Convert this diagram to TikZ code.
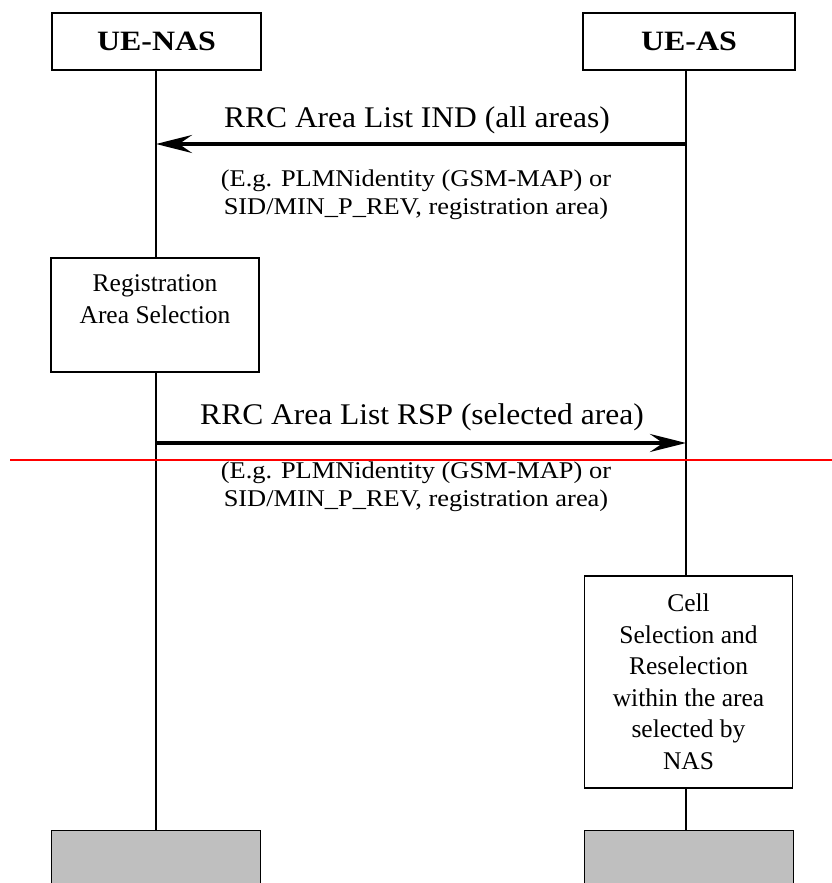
\documentclass[tikz,border=0pt]{standalone}
\usepackage{fontspec}
\setmainfont{Liberation Serif}
\newfontfamily\titlefont[FakeStretch=1.14]{Liberation Serif}
\newfontfamily\msgfont[FakeStretch=1.05]{Liberation Serif}
\newfontfamily\notefont[FakeStretch=1.1]{Liberation Serif}
\usetikzlibrary{arrows.meta}
\begin{document}
\begin{tikzpicture}[x=1pt,y=-1pt,
  entity/.style={draw, line width=1.4pt, inner sep=0pt, minimum height=57pt,
    font=\titlefont\bfseries\fontsize{28}{32}\selectfont},
  procbox/.style={draw, line width=1.4pt, inner sep=0pt, align=center,
    font=\fontsize{25.5}{31.5}\selectfont},
  endbox/.style={draw, line width=1.4pt, fill=black!25, inner sep=0pt,
    minimum width=209pt, minimum height=70pt},
  lifeline/.style={line width=1.3pt},
  message/.style={line width=4pt, -{Stealth[length=36pt,width=18pt,inset=13pt]}},
  msglabel/.style={inner sep=0pt, font=\msgfont\fontsize{30}{34}\selectfont},
  notelabel/.style={inner sep=0pt, align=center, font=\notefont\fontsize{24}{28}\selectfont}]
\useasboundingbox (0,0) rectangle (832,883);

% entities
\node[entity, minimum width=209pt] (nas) at (156.5,41.5) {UE-NAS};
\node[entity, minimum width=212pt] (as) at (689,41.5) {UE-AS};

% local procedures
\node[procbox, minimum width=208pt, minimum height=114pt] (regsel) at (155,315)
  {Registration\\Area Selection\\~};
\node[procbox, minimum width=208pt, minimum height=212pt] (cellsel) at (688.5,682)
  {Cell\\Selection and\\Reselection\\within the area\\selected by\\NAS};

% end of the lifelines
\node[endbox, anchor=north] (nasend) at (156,830) {};
\node[endbox, anchor=north] (asend) at (689,830) {};

% lifelines
\draw[lifeline] (nas.south -| 156,0) -- (regsel.north -| 156,0);
\draw[lifeline] (regsel.south -| 156,0) -- (nasend.north -| 156,0);
\draw[lifeline] (as.south -| 686,0) -- (cellsel.north -| 686,0);
\draw[lifeline] (cellsel.south -| 686,0) -- (asend.north -| 686,0);

% messages
\coordinate (indfrom) at (686,144);
\coordinate (indto) at (156,144);
\draw[message] (indfrom) -- (indto);
\node[msglabel] (indlbl) at (417,120) {RRC Area List IND (all areas)};
\node[notelabel] (indnote) at (416,195)
  {(E.g. PLMNidentity (GSM-MAP) or\\SID/MIN\_P\_REV, registration area)};

\coordinate (rspfrom) at (156,443);
\coordinate (rspto) at (686,443);
\draw[message] (rspfrom) -- (rspto);
\node[msglabel] (rsplbl) at (422,417) {RRC Area List RSP (selected area)};
\node[notelabel] (rspnote) at (416,487)
  {(E.g. PLMNidentity (GSM-MAP) or\\SID/MIN\_P\_REV, registration area)};

% red marker line
\coordinate (redL) at (10,460);
\coordinate (redR) at (832,460);
\draw[red, line width=1.5pt] (redL) -- (redR);
\end{tikzpicture}
\end{document}
